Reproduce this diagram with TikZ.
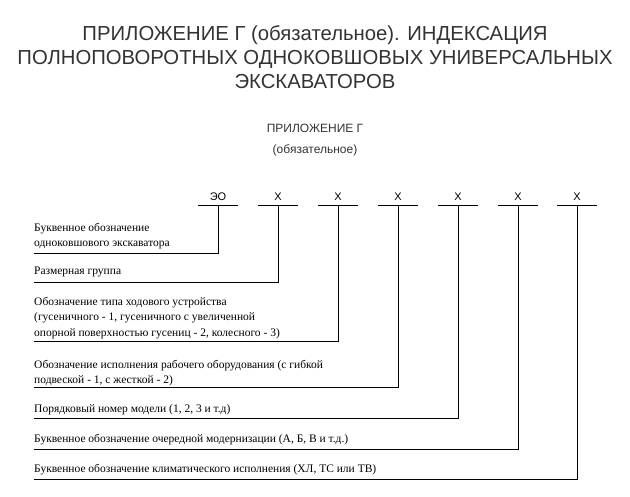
\documentclass[tikz,border=0pt]{standalone}
\usepackage{fontspec}
\setmainfont{Liberation Serif}
\newfontfamily\arialf{Liberation Sans}
\begin{document}
\begin{tikzpicture}[x=1pt,y=-1pt,
  ttl/.style={font=\arialf\fontsize{20.3}{22}\selectfont,text=black!80,inner sep=0,anchor=center},
  sub/.style={font=\arialf\fontsize{12}{14}\selectfont,text=black!80,inner sep=0,anchor=center},
  lbl/.style={font=\fontsize{11.5}{15.5}\selectfont,inner sep=0,anchor=north west,align=left},
  code/.style={font=\arialf\fontsize{11}{13}\selectfont,inner sep=0,anchor=base},
  ln/.style={line width=0.8pt}]
\useasboundingbox (0,0) rectangle (630,497);
\node[ttl] (t1) at (315,35) {ПРИЛОЖЕНИЕ Г (обязательное). ИНДЕКСАЦИЯ};
\node[ttl] (t2) at (315,59) {ПОЛНОПОВОРОТНЫХ ОДНОКОВШОВЫХ УНИВЕРСАЛЬНЫХ};
\node[ttl] (t3) at (315,82) {ЭКСКАВАТОРОВ};
\node[sub] (s1) at (315,128) {ПРИЛОЖЕНИЕ Г};
\node[sub] (s2) at (315,150) {(обязательное)};
\foreach \i/\x/\t in {1/218/ЭО,2/278/Х,3/338/Х,4/398/Х,5/458/Х,6/518/Х,7/577/Х}{
  \node[code] (c\i) at (\x,201) {\t};
  \coordinate (u\i) at (\x,205);
  \draw[ln] (\x-20,205) -- (\x+20,205);
}
\node[lbl] (l1) at (34,223) {Буквенное обозначение\\одноковшового экскаватора};
\node[lbl] (l2) at (34,267) {Размерная группа};
\node[lbl] (l3) at (34,297) {Обозначение типа ходового устройства\\(гусеничного - 1, гусеничного с увеличенной\\опорной поверхностью гусениц - 2, колесного - 3)};
\node[lbl] (l4) at (34,360) {Обозначение исполнения рабочего оборудования (с гибкой\\подвеской - 1, с жесткой - 2)};
\node[lbl] (l5) at (34,404) {Порядковый номер модели (1, 2, 3 и т.д)};
\node[lbl] (l6) at (34,434) {Буквенное обозначение очередной модернизации (А, Б, В и т.д.)};
\node[lbl] (l7) at (34,464) {Буквенное обозначение климатического исполнения (ХЛ, ТС или ТВ)};
\foreach \i/\y in {1/253,2/282,3/341,4/387,5/418,6/449,7/479}{
  \draw[ln] (l\i.south west |- 0,\y) -| (u\i);
}
\end{tikzpicture}
\end{document}
